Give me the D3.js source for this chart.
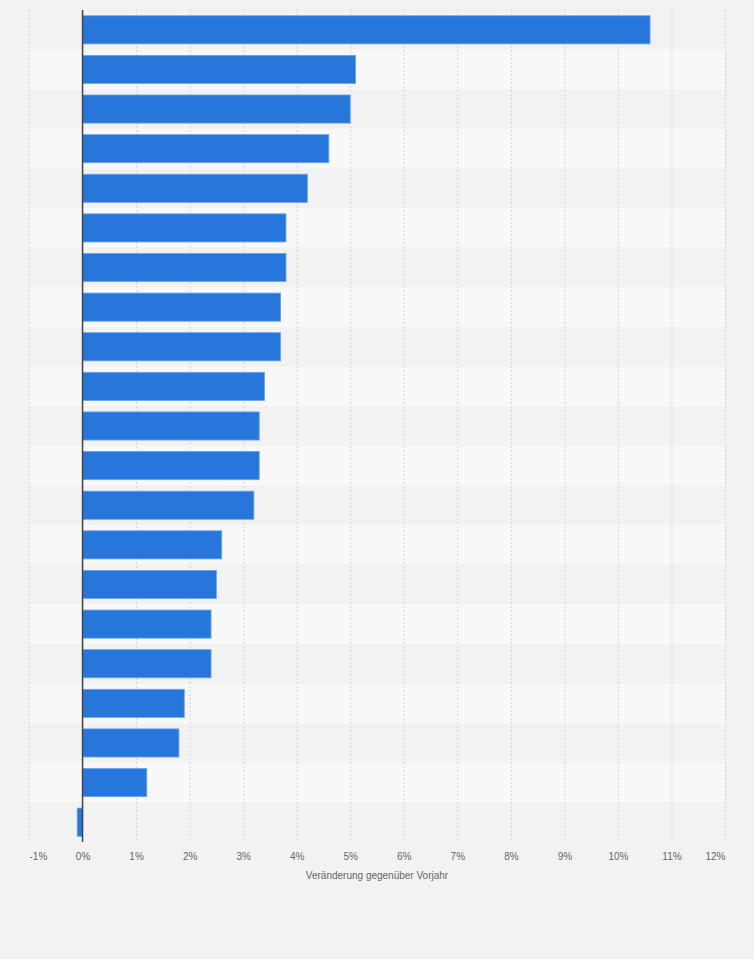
<!doctype html>
<html>
<head>
<meta charset="utf-8"/>
<title>Veränderung gegenüber Vorjahr</title>
<script src="https://d3js.org/d3.v7.min.js"></script>
<style>
body{margin:0;background:#f2f2f2;}
svg{display:block;font-family:"Liberation Sans",Arial,sans-serif;}
</style>
</head>
<body>
<script>
// Werte (Veränderung gegenüber Vorjahr in %)
var categories = ["1","2","3","4","5","6","7","8","9","10","11","12","13","14","15","16","17","18","19","20","21"];
var values = [10.6, 5.1, 5.0, 4.6, 4.2, 3.8, 3.8, 3.7, 3.7, 3.4, 3.3, 3.3, 3.2, 2.6, 2.5, 2.4, 2.4, 1.9, 1.8, 1.2, -0.1];
var tickValues = [-1,0,1,2,3,4,5,6,7,8,9,10,11,12];
var tickLabels = ["-1%","0%","1%","2%","3%","4%","5%","6%","7%","8%","9%","10%","11%","12%"];
var axisTitle = "Veränderung gegenüber Vorjahr";

var width = 754, height = 959;
var plotTop = 10, plotBottom = 842;

var svg = d3.select("body").append("svg")
  .attr("width", width)
  .attr("height", height);

svg.append("rect").attr("width", width).attr("height", height).attr("fill", "#f2f2f2");

var x = d3.scaleLinear().domain([-1, 12]).range([29, 725]);
var y = d3.scaleBand().domain(categories).range([plotTop, plotBottom]).paddingInner(0.29).paddingOuter(0.145);
var rows = d3.scaleBand().domain(categories).range([plotTop, plotBottom]).padding(0);

// Streifen
svg.append("g").selectAll("rect")
  .data(categories)
  .enter().append("rect")
  .attr("x", x(-1))
  .attr("width", x(12) - x(-1))
  .attr("y", function(d){ return rows(d); })
  .attr("height", rows.bandwidth())
  .attr("fill", function(d,i){ return i % 2 ? "#f8f8f8" : "#f2f2f2"; });

// Gitterlinien
svg.append("g").selectAll("line")
  .data(tickValues)
  .enter().append("line")
  .attr("x1", function(d){ return x(d) + 0.5; })
  .attr("x2", function(d){ return x(d) + 0.5; })
  .attr("y1", plotTop)
  .attr("y2", plotBottom)
  .attr("stroke", "#d4d4d4")
  .attr("stroke-width", 1)
  .attr("stroke-dasharray", "2,2");

// Balken
svg.append("g").selectAll("rect")
  .data(values)
  .enter().append("rect")
  .attr("x", function(d){ return x(Math.min(0, d)); })
  .attr("width", function(d){ return Math.abs(x(d) - x(0)); })
  .attr("y", function(d,i){ return y(categories[i]); })
  .attr("height", y.bandwidth())
  .attr("fill", "#2776dc")
  .attr("stroke", "#6aa4ec")
  .attr("stroke-width", 0.8);

// Nulllinie
svg.append("line")
  .attr("x1", x(0)).attr("x2", x(0))
  .attr("y1", plotTop).attr("y2", plotBottom)
  .attr("stroke", "#444")
  .attr("stroke-width", 1.5);

// Achse
var axis = d3.axisBottom(x)
  .tickValues(tickValues)
  .tickSize(0)
  .tickPadding(0)
  .tickFormat(function(d,i){ return tickLabels[i]; });

var ax = svg.append("g")
  .attr("transform", "translate(0," + (plotBottom + 11) + ")")
  .call(axis);
ax.select(".domain").remove();
ax.selectAll("text")
  .attr("fill", "#666")
  .style("font-size", "10px")
  .attr("text-anchor", function(d,i){ return i === 0 ? "start" : (i === tickValues.length - 1 ? "end" : "middle"); });

svg.append("text")
  .attr("x", (x(-1) + x(12)) / 2)
  .attr("y", 879)
  .attr("text-anchor", "middle")
  .attr("fill", "#666")
  .style("font-size", "10px")
  .text(axisTitle);
</script>
</body>
</html>
